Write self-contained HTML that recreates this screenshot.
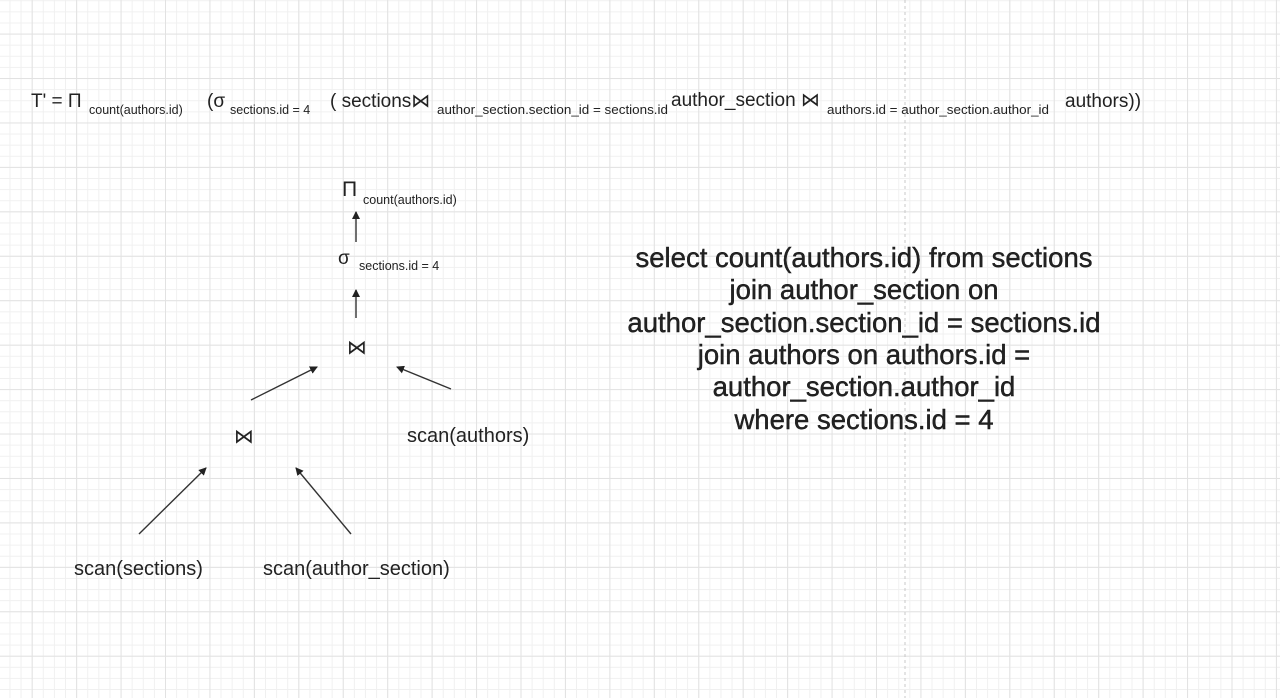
<!DOCTYPE html>
<html><head><meta charset="utf-8"><style>
html,body{margin:0;padding:0;width:1280px;height:698px;overflow:hidden;background:#fff}
.g{position:absolute;left:0;top:0;width:1280px;height:698px;
background-image:
linear-gradient(to right,#e2e2e2 1px,transparent 1px),
linear-gradient(to bottom,#e2e2e2 1px,transparent 1px),
linear-gradient(to right,#f0f0f0 1px,transparent 1px),
linear-gradient(to bottom,#f0f0f0 1px,transparent 1px);
background-size:44.44px 44.44px,44.44px 44.44px,11.11px 11.11px,11.11px 11.11px;
background-position:31.7px 0,0 33.6px,31.7px 0,0 33.6px}
svg{position:absolute;left:0;top:0}
text{font-family:"Liberation Sans","DejaVu Sans",sans-serif;fill:#222}
</style></head><body>
<div class="g"></div>
<svg width="1280" height="698" viewBox="0 0 1280 698">
<defs><marker id="a" markerWidth="8" markerHeight="8" refX="7" refY="4" orient="auto" markerUnits="userSpaceOnUse"><path d="M0,0 L8,4 L0,8 Z" fill="#222"/></marker></defs>
<line x1="905" y1="0" x2="905" y2="698" stroke="#c8c8c8" stroke-dasharray="3,3"/>
<g font-size="19">
<text x="31" y="107">T' = Π</text>
<text x="207" y="107">(σ</text>
<text x="330" y="107">( sections⋈</text>
<text x="671" y="106">author_section ⋈</text>
<text x="1065" y="107">authors))</text>
</g>
<g font-size="12.5">
<text x="89" y="114">count(authors.id)</text>
<text x="230" y="114">sections.id = 4</text>
<text x="437" y="114" textLength="231" lengthAdjust="spacingAndGlyphs">author_section.section_id = sections.id</text>
<text x="827" y="114" textLength="222" lengthAdjust="spacingAndGlyphs">authors.id = author_section.author_id</text>
</g>
<text x="342" y="196" font-size="21">Π</text>
<text x="363" y="204" font-size="12.5">count(authors.id)</text>
<text x="338" y="264" font-size="19">σ</text>
<text x="359" y="270" font-size="12.5">sections.id = 4</text>
<text x="347" y="354" font-size="20">⋈</text>
<text x="234" y="443" font-size="20">⋈</text>
<g stroke="#333" stroke-width="1.4" marker-end="url(#a)">
<line x1="356" y1="242" x2="356" y2="212"/>
<line x1="356" y1="318" x2="356" y2="290"/>
<line x1="251" y1="400" x2="317" y2="367"/>
<line x1="451" y1="389" x2="397" y2="367"/>
<line x1="139" y1="534" x2="206" y2="468"/>
<line x1="351" y1="534" x2="296" y2="468"/>
</g>
<g font-size="20">
<text x="407" y="442">scan(authors)</text>
<text x="74" y="575">scan(sections)</text>
<text x="263" y="575">scan(author_section)</text>
</g>
<g font-size="27.5" text-anchor="middle" style="fill:#111" stroke="#111" stroke-width="0.4">
<text x="864" y="267">select count(authors.id) from sections</text>
<text x="864" y="299">join author_section on</text>
<text x="864" y="332">author_section.section_id = sections.id</text>
<text x="864" y="364">join authors on authors.id =</text>
<text x="864" y="396">author_section.author_id</text>
<text x="864" y="429">where sections.id = 4</text>
</g>
</svg>
</body></html>
